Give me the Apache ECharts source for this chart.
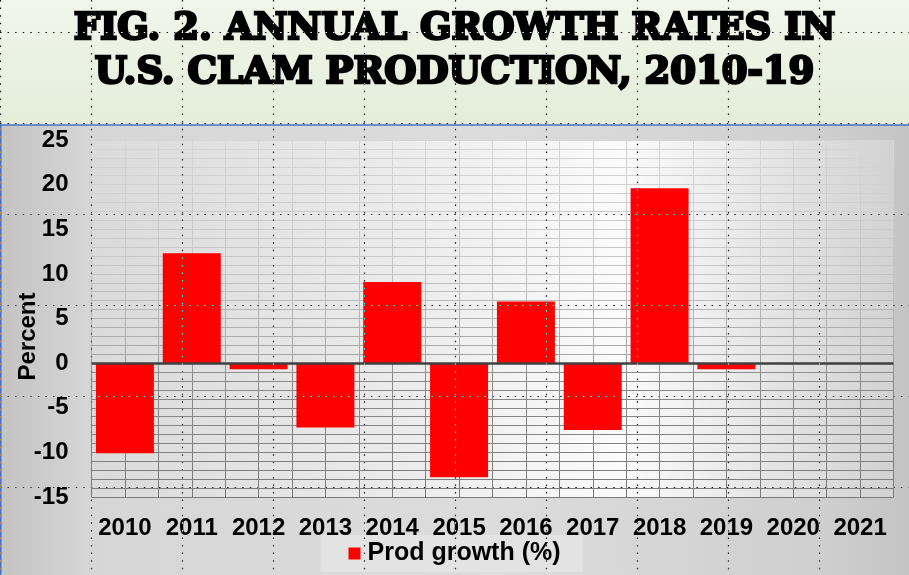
<!DOCTYPE html>
<html>
<head>
<meta charset="utf-8">
<script src="https://cdn.jsdelivr.net/npm/echarts@6/dist/echarts.min.js"></script>
<style>html,body{margin:0;padding:0;background:#d0d0d0}#c{width:909px;height:575px}</style>
</head>
<body>
<div id="c"></div>
<script>
// ---- data ----
const titleLines = ['FIG. 2. ANNUAL GROWTH RATES IN', 'U.S. CLAM PRODUCTION, 2010-19'];
const categories = ['2010','2011','2012','2013','2014','2015','2016','2017','2018','2019','2020','2021'];
const prodGrowth = [-10.1, 12.3, -0.7, -7.2, 9.1, -12.8, 6.9, -7.5, 19.6, -0.7, null, null];
const seriesName = 'Prod growth (%)';
const yAxisName = 'Percent';
const yMin = -15, yMax = 25, yStep = 5;

// ---- styles ----
const gridLineColor = {type:'linear', x:0, y:140, x2:0, y2:497, global:true, colorStops:[
  {offset:0, color:'#d6d6d6'}, {offset:0.35, color:'#c6c6c6'}, {offset:0.6, color:'#a6a6a6'},
  {offset:0.66, color:'#8c8c8c'}, {offset:1, color:'#7a7a7a'}]};

const W = 909, H = 575;
const graphics = [];
// title band background
graphics.push({type:'rect', z:-20, silent:true, shape:{x:0,y:0,width:W,height:125},
  style:{fill:{type:'linear',x:0,y:0,x2:0,y2:1,colorStops:[{offset:0,color:'#f1f6eb'},{offset:1,color:'#e3eed9'}]}}});
// chart area background
graphics.push({type:'rect', z:-20, silent:true, shape:{x:0,y:125,width:W,height:H-125},
  style:{fill:{type:'linear',x:0,y:0,x2:1,y2:0,colorStops:[
    {offset:0,color:'#c3c3c3'},{offset:0.1,color:'#d6d6d6'},{offset:0.55,color:'#dcdcdc'},
    {offset:0.9,color:'#cfcfcf'},{offset:1,color:'#c4c4c4'}]}}});
// blue separator and left border
graphics.push({type:'line', z:-5, silent:true, shape:{x1:0,y1:125,x2:W,y2:125}, style:{stroke:'#4472C4', lineWidth:1.5}});
graphics.push({type:'line', z:-5, silent:true, shape:{x1:0.75,y1:125,x2:0.75,y2:H}, style:{stroke:'#4472C4', lineWidth:1.5}});
graphics.push({type:'line', z:-4, silent:true, shape:{x1:1.5,y1:128,x2:1.5,y2:H}, style:{stroke:'#d9a040', lineWidth:1, lineDash:[1.5,7.4]}});
// spreadsheet dotted cell lines (overlay)
for (let k = 0; k <= 10; k++) {
  const x = 0.5 + 91 * k;
  graphics.push({type:'line', z:100, silent:true, shape:{x1:x,y1:0,x2:x,y2:H},
    style:{stroke:'#ffffff', lineWidth:1.2, lineDash:[1.5,6.07], blend:'difference'}});
}
for (let k = 0; k <= 5; k++) {
  const y = 32.5 + 91 * k;
  graphics.push({type:'line', z:100, silent:true, shape:{x1:0,y1:y,x2:W,y2:y},
    style:{stroke:'#ffffff', lineWidth:1.2, lineDash:[1.5,6.07], blend:'difference'}});
}
// y-axis name
graphics.push({type:'text', z:10, x:28.5, y:336.5, rotation:Math.PI/2,
  style:{text:yAxisName, font:'bold 24px "Liberation Sans", Arial, sans-serif', fill:'#000', align:'center', verticalAlign:'middle'}});

const chart = echarts.init(document.getElementById('c'), null, {renderer:'canvas'});
chart.setOption({
  animation:false,
  backgroundColor:'transparent',
  title:{
    text: titleLines.join('\n'),
    left:'center', top:0, padding:[7,0,0,0],
    textStyle:{fontFamily:'"DejaVu Serif", serif', fontWeight:'bold', fontSize:37, lineHeight:44,
      color:'#000', textBorderColor:'#000', textBorderWidth:2.6}
  },
  legend:{
    data:[seriesName], left:'center', top:535,
    padding:[6,22,6,28], backgroundColor:'#e3e3e3',
    itemWidth:12, itemHeight:12, icon:'rect',
    textStyle:{fontFamily:'"Liberation Sans", Arial, sans-serif', fontWeight:'bold', fontSize:25, color:'#000', padding:[0,0,0,2]}
  },
  grid:{left:91.5, right:15.5, top:140, bottom:78, show:true, borderWidth:0,
    backgroundColor:{type:'linear',x:0,y:0,x2:1,y2:0,colorStops:[
      {offset:0,color:'#dadada'},{offset:0.4,color:'#ececec'},{offset:0.66,color:'#fbfbfb'},{offset:1,color:'#d2d2d2'}]}},
  xAxis:[{
    type:'category', data:categories, position:'bottom',
    axisLine:{show:false}, axisTick:{show:false}, splitLine:{show:false},
    axisLabel:{interval:0, margin:19, fontFamily:'"Liberation Sans", Arial, sans-serif', fontWeight:'bold', fontSize:24, color:'#000'}
  },{
    type:'value', min:0, max:categories.length*2, interval:1, position:'top',
    axisLine:{show:false}, axisTick:{show:false}, axisLabel:{show:false},
    splitLine:{show:true, lineStyle:{color:gridLineColor, width:1}}
  }],
  yAxis:{
    type:'value', min:yMin, max:yMax, interval:yStep,
    axisLine:{show:false}, axisTick:{show:false},
    axisLabel:{margin:23, fontFamily:'"Liberation Sans", Arial, sans-serif', fontWeight:'bold', fontSize:24, color:'#000'},
    splitLine:{show:true, lineStyle:{color:gridLineColor, width:1}},
    minorTick:{show:false, splitNumber:5},
    minorSplitLine:{show:true, lineStyle:{color:gridLineColor, width:1}}
  },
  series:[{
    name:seriesName, type:'bar', xAxisIndex:0, data:prodGrowth, barWidth:58,
    itemStyle:{color:'#ff0000'},
    markLine:{silent:true, symbol:['none','none'], label:{show:false},
      lineStyle:{color:'#404040', width:2.5, type:'solid'}, data:[{yAxis:0}]}
  }],
  graphic:graphics
});
</script>
</body>
</html>
